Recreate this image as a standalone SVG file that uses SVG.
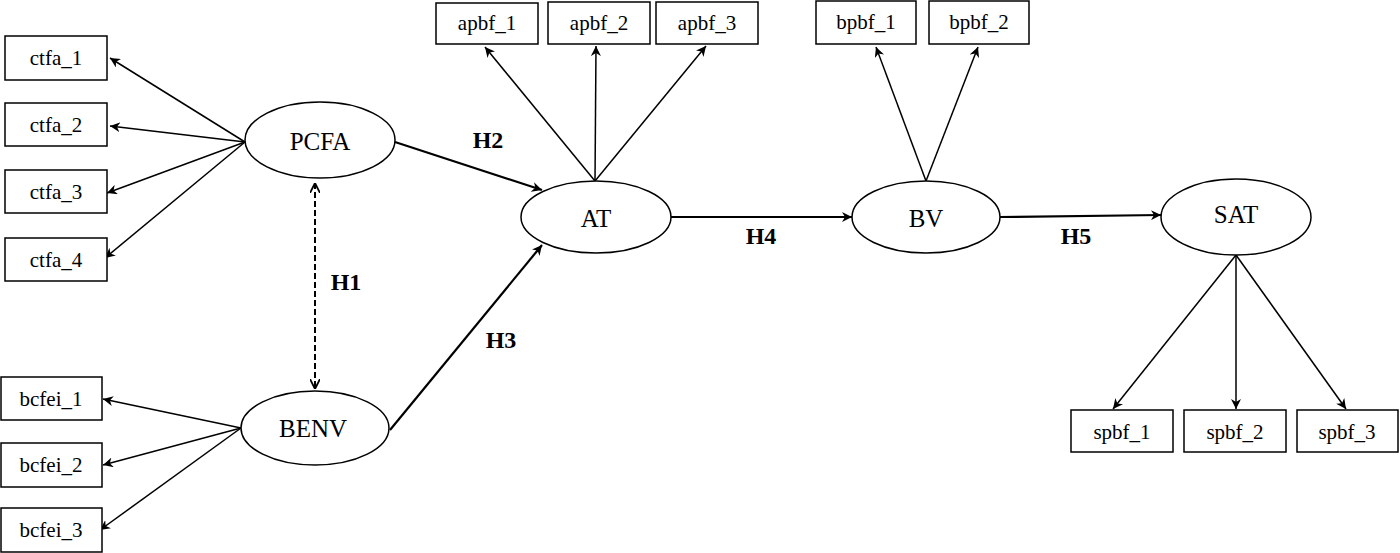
<svg xmlns="http://www.w3.org/2000/svg" width="1400" height="553" viewBox="0 0 1400 553">
<defs>
<marker id="ah" viewBox="0 0 10 10" refX="10" refY="5" markerWidth="10" markerHeight="10" markerUnits="userSpaceOnUse" orient="auto-start-reverse">
<path d="M0,0 L10,5 L0,10 L3,5 Z" fill="#000"/>
</marker>
<marker id="oh" viewBox="0 0 10 10" refX="10" refY="5" markerWidth="10" markerHeight="10" markerUnits="userSpaceOnUse" orient="auto-start-reverse">
<path d="M0,0 L10,5 L0,10" fill="none" stroke="#000" stroke-width="1.8"/>
</marker>
</defs>
<style>
rect{fill:#fff;stroke:#000;stroke-width:1.5}
ellipse{fill:#fff;stroke:#000;stroke-width:1.5}
text{font-family:"Liberation Serif","Times New Roman",serif;fill:#000;text-anchor:middle;dominant-baseline:central}
.b{font-size:21px}
.e{font-size:25px}
.h{font-size:24px;font-weight:bold}
.c line{stroke:#000;stroke-width:1.5;marker-end:url(#ah)}
.c .t{stroke-width:2.2}
</style>
<g id="connectors" class="c">
<line x1="245" y1="142" x2="110" y2="58"/>
<line x1="245" y1="142" x2="110" y2="126"/>
<line x1="245" y1="142" x2="107" y2="193"/>
<line x1="245" y1="142" x2="105" y2="258"/>
<line x1="241" y1="428" x2="103" y2="399"/>
<line x1="241" y1="428" x2="103" y2="465"/>
<line x1="241" y1="428" x2="100" y2="530"/>
<line x1="315" y1="183" x2="315" y2="389" style="stroke-width:2;stroke-dasharray:6,3;marker-end:url(#oh);marker-start:url(#oh)"/>
<line class="t" x1="395" y1="142" x2="542" y2="190"/>
<line class="t" x1="390" y1="430" x2="542" y2="245"/>
<line x1="595" y1="181" x2="485" y2="47"/>
<line x1="595" y1="181" x2="596" y2="46"/>
<line x1="595" y1="181" x2="706" y2="46"/>
<line x1="926" y1="181" x2="876" y2="47"/>
<line x1="926" y1="181" x2="978" y2="47"/>
<line class="t" x1="670" y1="217" x2="852" y2="217"/>
<line class="t" x1="1000" y1="217" x2="1161" y2="215"/>
<line x1="1236" y1="255" x2="1113" y2="409"/>
<line x1="1236" y1="255" x2="1236" y2="409"/>
<line x1="1236" y1="255" x2="1346" y2="409"/>
</g>
<g id="labels">
<text class="h" x="346" y="282">H1</text>
<text class="h" x="488" y="140">H2</text>
<text class="h" x="501" y="340">H3</text>
<text class="h" x="761" y="236">H4</text>
<text class="h" x="1076" y="236">H5</text>
</g>
<g id="ctfa_1"><rect x="5" y="36" width="102" height="44"/><text class="b" x="56" y="58">ctfa_1</text></g>
<g id="ctfa_2"><rect x="5" y="103" width="102" height="43"/><text class="b" x="56" y="125">ctfa_2</text></g>
<g id="ctfa_3"><rect x="5" y="170" width="102" height="43"/><text class="b" x="56" y="192">ctfa_3</text></g>
<g id="ctfa_4"><rect x="5" y="238" width="102" height="43"/><text class="b" x="56" y="260">ctfa_4</text></g>
<g id="bcfei_1"><rect x="1" y="377" width="101" height="43"/><text class="b" x="51" y="399">bcfei_1</text></g>
<g id="bcfei_2"><rect x="1" y="443" width="101" height="44"/><text class="b" x="51" y="465">bcfei_2</text></g>
<g id="bcfei_3"><rect x="1" y="508" width="101" height="44"/><text class="b" x="51" y="530">bcfei_3</text></g>
<g id="PCFA"><ellipse cx="320" cy="140" rx="75" ry="38"/><text class="e" x="320" y="141">PCFA</text></g>
<g id="BENV"><ellipse cx="315" cy="428" rx="74" ry="37"/><text class="e" x="313" y="428">BENV</text></g>
<g id="AT"><ellipse cx="596" cy="217" rx="75" ry="36"/><text class="e" x="596" y="218">AT</text></g>
<g id="BV"><ellipse cx="926" cy="217" rx="74" ry="36"/><text class="e" x="926" y="218">BV</text></g>
<g id="SAT"><ellipse cx="1236" cy="217" rx="75" ry="38"/><text class="e" x="1236" y="214">SAT</text></g>
<g id="apbf_1"><rect x="436" y="3" width="102" height="41"/><text class="b" x="487" y="23">apbf_1</text></g>
<g id="apbf_2"><rect x="548" y="2" width="102" height="42"/><text class="b" x="599" y="23">apbf_2</text></g>
<g id="apbf_3"><rect x="656" y="2" width="102" height="42"/><text class="b" x="707" y="23">apbf_3</text></g>
<g id="bpbf_1"><rect x="816" y="1" width="100" height="43"/><text class="b" x="866" y="22">bpbf_1</text></g>
<g id="bpbf_2"><rect x="929" y="1" width="100" height="43"/><text class="b" x="979" y="22">bpbf_2</text></g>
<g id="spbf_1"><rect x="1071" y="410" width="102" height="42"/><text class="b" x="1122" y="432">spbf_1</text></g>
<g id="spbf_2"><rect x="1184" y="410" width="102" height="42"/><text class="b" x="1235" y="432">spbf_2</text></g>
<g id="spbf_3"><rect x="1297" y="410" width="101" height="42"/><text class="b" x="1347" y="432">spbf_3</text></g>
</svg>
